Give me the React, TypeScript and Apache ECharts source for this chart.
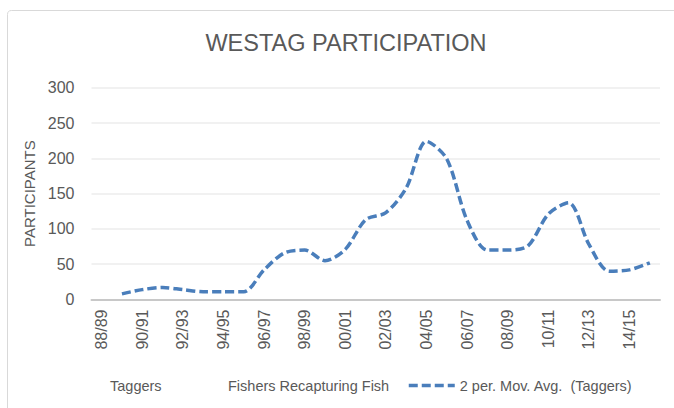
import React, { useEffect, useRef } from "react";
import * as echarts from "echarts";

const categories = [
  "88/89", "89/90", "90/91", "91/92", "92/93", "93/94", "94/95", "95/96",
  "96/97", "97/98", "98/99", "99/00", "00/01", "01/02", "02/03", "03/04",
  "04/05", "05/06", "06/07", "07/08", "08/09", "09/10", "10/11", "11/12",
  "12/13", "13/14", "14/15", "15/16",
];

const movingAvg: (number | null)[] = [
  null, 8, 14, 17, 14, 11, 11, 11, 42, 66, 70, 55, 71, 113, 123, 158,
  224, 199, 112, 70, 70, 76, 121, 137, 78, 40, 42, 52,
];

const seriesNames = ["Taggers", "Fishers Recapturing Fish", "2 per. Mov. Avg.  (Taggers)"];
const yTicks = { min: 0, max: 300, interval: 50 };
const titleText = "WESTAG PARTICIPATION";
const yName = "PARTICIPANTS";

const FONT = "'Liberation Sans', Arial, Helvetica, sans-serif";
const GREY = "#595959";
const BLUE = "#4a7ebb";

export default function App() {
  const ref = useRef<HTMLDivElement>(null);
  useEffect(() => {
    if (!ref.current) return;
    const chart = echarts.init(ref.current, undefined, { renderer: "svg" });
    chart.setOption({
      animation: false,
      backgroundColor: "#ffffff",
      textStyle: { fontFamily: FONT },
      title: {
        text: titleText,
        left: 346,
        textAlign: "center",
        top: 31,
        padding: 0,
        textStyle: { fontFamily: FONT, fontSize: 23.5, fontWeight: "normal", color: GREY },
      },
      graphic: [
        {
          type: "rect",
          shape: { x: 7.5, y: 10.5, width: 720, height: 460, r: 4 },
          style: { fill: "none", stroke: "#d9d9d9", lineWidth: 1 },
          silent: true,
        },
      ],
      legend: [
        {
          data: [{ name: seriesNames[0], icon: "none" }],
          left: 104,
          top: 378,
          itemWidth: 1,
          itemHeight: 4,
          padding: 0,
          textStyle: { fontFamily: FONT, fontSize: 14.5, color: GREY },
        },
        {
          data: [{ name: seriesNames[1], icon: "none" }],
          left: 222,
          top: 378,
          itemWidth: 1,
          itemHeight: 4,
          padding: 0,
          textStyle: { fontFamily: FONT, fontSize: 14.5, color: GREY },
        },
        {
          data: [seriesNames[2]],
          left: 407,
          top: 378,
          itemWidth: 46,
          itemHeight: 14,
          padding: 0,
          itemStyle: { opacity: 0 },
          lineStyle: { color: BLUE, width: 3.5, type: [9, 4] },
          textStyle: { fontFamily: FONT, fontSize: 14.5, color: GREY },
        },
      ],
      grid: { left: 91.5, right: 14, top: 87.7, bottom: 108.5 },
      xAxis: {
        type: "category",
        data: categories,
        boundaryGap: true,
        axisLine: { lineStyle: { color: "#c8c8c8", width: 2 } },
        axisTick: { show: false },
        axisLabel: {
          interval: 1,
          rotate: 90,
          margin: 10,
          fontFamily: FONT,
          fontSize: 16,
          color: GREY,
        },
      },
      yAxis: {
        type: "value",
        min: yTicks.min,
        max: yTicks.max,
        interval: yTicks.interval,
        name: yName,
        nameLocation: "middle",
        nameRotate: 90,
        nameGap: 54,
        nameTextStyle: { fontFamily: FONT, fontSize: 15, color: GREY },
        axisLine: { show: false },
        axisTick: { show: false },
        axisLabel: { margin: 17, fontFamily: FONT, fontSize: 16, color: GREY },
        splitLine: { lineStyle: { color: "#ececec", width: 1.5 } },
      },
      series: [
        {
          name: seriesNames[0],
          type: "line",
          data: [],
          symbol: "none",
          lineStyle: { opacity: 0 },
          itemStyle: { color: "#ffffff" },
        },
        {
          name: seriesNames[1],
          type: "line",
          data: [],
          symbol: "none",
          lineStyle: { opacity: 0 },
          itemStyle: { color: "#ffffff" },
        },
        {
          name: seriesNames[2],
          type: "line",
          data: movingAvg,
          smooth: 0.3,
          symbol: "none",
          connectNulls: false,
          itemStyle: { color: BLUE },
          lineStyle: { color: BLUE, width: 3.5, type: [9, 4], cap: "butt" },
        },
      ],
    });
    return () => chart.dispose();
  }, []);
  return <div ref={ref} style={{ width: 674, height: 408, position: "absolute", left: 0, top: 0 }} />;
}
